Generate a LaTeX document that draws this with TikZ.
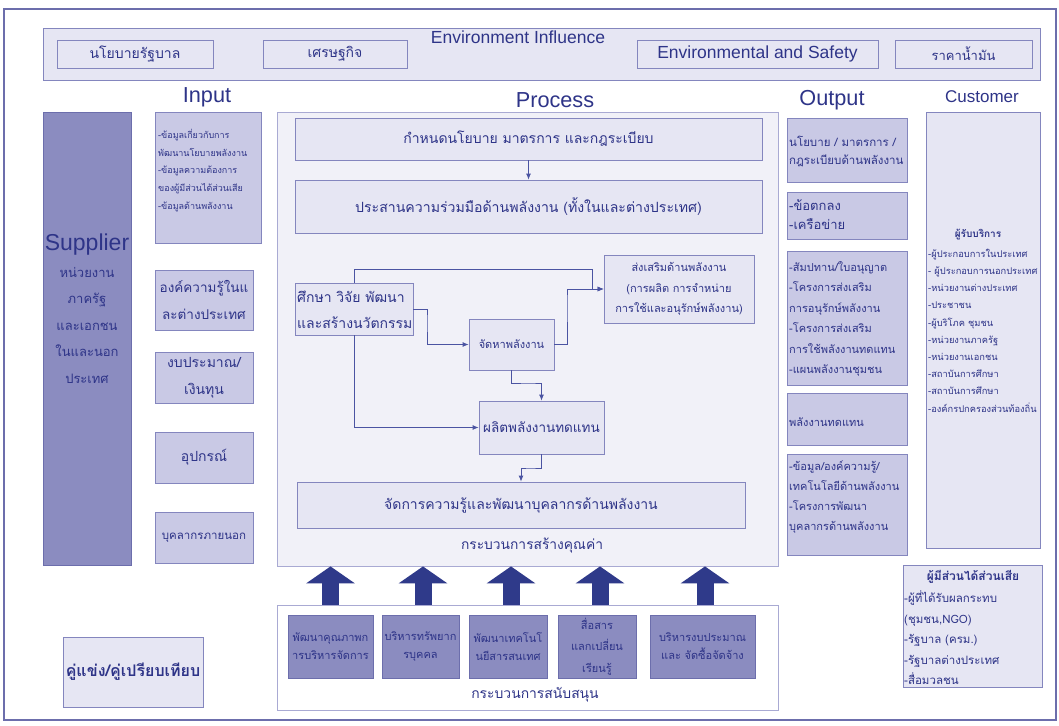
\documentclass[tikz,border=0pt]{standalone}
\usepackage{fontspec}
\setmainfont{Liberation Sans}
\newfontfamily\thaifont[Script=Thai]{Loma}
\usetikzlibrary{fit,arrows.meta}
\definecolor{ink}{HTML}{2E3488}
\definecolor{edge}{HTML}{8486BE}
\definecolor{softedge}{HTML}{A9AAD3}
\definecolor{pale}{HTML}{E6E6F3}
\definecolor{procbg}{HTML}{F1F1F8}
\definecolor{mid}{HTML}{C9C9E5}
\definecolor{deep}{HTML}{8B8CC0}
\definecolor{deepedge}{HTML}{6C6EAC}
\definecolor{flow}{HTML}{4B54A2}
\definecolor{arrowink}{HTML}{2F3A8A}
\newcommand\thfs[2]{\thaifont\fontsize{#1}{#2}\selectfont}
\newcommand\lafs[1]{\fontsize{#1}{#1}\selectfont}
\begin{document}
\begin{tikzpicture}[x=1pt,y=-1pt,
  box/.style={draw=edge, line width=0.8pt, inner sep=0pt},
  palebox/.style={box, fill=pale},
  midbox/.style={box, fill=mid},
  deepbox/.style={box, fill=deep, draw=deepedge},
  txt/.style={inner sep=0pt, text=ink, align=center},
  ltxt/.style={txt, anchor=west, align=left},
  head/.style={txt, font=\lafs{21.7}},
  flowline/.style={draw=flow, line width=0.8pt, -{Latex[length=6pt,width=5pt]}},
  bigup/.style={draw=arrowink, line width=17pt, -{Triangle[width=48pt,length=17pt]}},
]
\useasboundingbox (0,0) rectangle (1059,725);
\fill[white] (0,0) rectangle (1059,725);
\node[draw=deepedge, line width=1.2pt, inner sep=0pt, fit={(4,9) (1056,720)}] (frame) {};

% environment influence bar
\node[palebox, fit={(43,28) (1040,80)}] (env) {};
\node[txt, font=\lafs{17.5}] (envtitle) at (518,37) {Environment Influence};
\node[palebox, fit={(57,40) (213,68)}] (gov) {};
\node[txt, font=\thfs{14}{16}] (govt) at (gov) {นโยบายรัฐบาล};
\node[palebox, fit={(263,40) (407,68)}] (econ) {};
\node[txt, font=\thfs{14}{16}] (econt) at (econ) {เศรษฐกิจ};
\node[palebox, fit={(637,40) (878,68)}] (safety) {};
\node[txt, font=\lafs{17.5}] (safetyt) at (safety) {Environmental and Safety};
\node[palebox, fit={(895,40) (1032,68)}] (oil) {};
\node[txt, font=\thfs{13}{15}] (oilt) at (oil) {ราคาน้ำมัน};

% column headings
\node[head] (hin) at (207,97) {Input};
\node[head] (hproc) at (555,100) {Process};
\node[head] (hout) at (832,100) {Output};
\node[txt, font=\lafs{17}] (hcust) at (982,97) {Customer};

% supplier
\node[deepbox, fit={(43,112) (131,565)}] (supplier) {};
\node[txt, font=\lafs{23}] (suptitle) at (87,245) {Supplier};
\node[txt, font=\thfs{13}{26.5}] (supbody) at (87,325) {หน่วยงาน\\ภาครัฐ\\และเอกชน\\ในและนอก\\ประเทศ};

% input
\node[midbox, fit={(155,112) (261,243)}] (in1) {};
\node[ltxt, font=\thfs{9}{17.75}] (in1t) at (158,170.5) {-ข้อมูลเกี่ยวกับการ\\พัฒนานโยบายพลังงาน\\-ข้อมูลความต้องการ\\ของผู้มีส่วนได้ส่วนเสีย\\-ข้อมูลด้านพลังงาน};
\node[midbox, fit={(155,270) (253,330)}] (in2) {};
\node[txt, font=\thfs{13.5}{27}] (in2t) at (in2) {องค์ความรู้ในแ\\ละต่างประเทศ};
\node[midbox, fit={(155,352) (253,403)}] (in3) {};
\node[txt, font=\thfs{14}{27}] (in3t) at (in3) {งบประมาณ/\\เงินทุน};
\node[midbox, fit={(155,432) (253,483)}] (in4) {};
\node[txt, font=\thfs{14}{16}] (in4t) at (in4) {อุปกรณ์};
\node[midbox, fit={(155,512) (253,563)}] (in5) {};
\node[txt, font=\thfs{11.5}{13}] (in5t) at (in5) {บุคลากรภายนอก};

% process
\node[draw=softedge, fill=procbg, line width=0.8pt, inner sep=0pt, fit={(277,112) (778,566)}] (proc) {};
\node[palebox, fit={(295,118) (762,160)}] (p1) {};
\node[txt, font=\thfs{14}{16}] (p1t) at (p1) {กำหนดนโยบาย มาตรการ และกฎระเบียบ};
\node[palebox, fit={(295,180) (762,233)}] (p2) {};
\node[txt, font=\thfs{14.1}{16}] (p2t) at (p2) {ประสานความร่วมมือด้านพลังงาน (ทั้งในและต่างประเทศ)};
\node[palebox, fit={(295,283) (413,335)}] (study) {};
\node[ltxt, font=\thfs{14}{26}] (studyt) at (297,310) {ศึกษา วิจัย พัฒนา\\และสร้างนวัตกรรม};
\node[palebox, fit={(604,255) (754,323)}] (promo) {};
\node[txt, font=\thfs{11}{20.5}] (promot) at (promo) {ส่งเสริมด้านพลังงาน\\(การผลิต การจำหน่าย\\การใช้และอนุรักษ์พลังงาน)};
\node[palebox, fit={(469,319) (554,370)}] (supply) {};
\node[txt, font=\thfs{11}{13}] (supplyt) at (supply) {จัดหาพลังงาน};
\node[palebox, fit={(479,401) (604,454)}] (renew) {};
\node[txt, font=\thfs{13.5}{16}] (renewt) at (renew) {ผลิตพลังงานทดแทน};
\node[palebox, fit={(297,482) (745,528)}] (km) {};
\node[txt, font=\thfs{14}{16}] (kmt) at (km) {จัดการความรู้และพัฒนาบุคลากรด้านพลังงาน};
\node[txt, font=\thfs{13.8}{15}] (vclabel) at (532,546) {กระบวนการสร้างคุณค่า};

\coordinate (bendA) at (592,269);
\coordinate (bendB) at (427,320);
\coordinate (bendC) at (567,300);
\coordinate (bendD) at (530,383);
\coordinate (bendE) at (530,468);
\draw[flowline] (p1.south) -- (p2.north);
\draw[flowline] (study.north) |- (bendA) |- (promo.west);
\draw[flowline] (study.east) -| (bendB) |- (supply.west);
\draw[flowline] (supply.east) -| (bendC) |- (promo.west);
\draw[flowline] (supply.south) |- (bendD) -| (renew.north);
\draw[flowline] (study.south) |- (renew.west);
\draw[flowline] (renew.south) |- (bendE) -| (km.north);

% output
\node[midbox, fit={(787,118) (907,182)}] (o1) {};
\node[ltxt, font=\thfs{11.5}{18}] (o1t) at (789,151) {นโยบาย / มาตรการ /\\กฎระเบียบด้านพลังงาน};
\node[midbox, fit={(787,192) (907,239)}] (o2) {};
\node[ltxt, font=\thfs{13}{19}] (o2t) at (789,214.5) {-ข้อตกลง\\-เครือข่าย};
\node[midbox, fit={(787,251) (907,385)}] (o3) {};
\node[ltxt, font=\thfs{11}{20.4}] (o3t) at (789,319) {-สัมปทาน/ใบอนุญาต\\-โครงการส่งเสริม\\การอนุรักษ์พลังงาน\\-โครงการส่งเสริม\\การใช้พลังงานทดแทน\\-แผนพลังงานชุมชน};
\node[midbox, fit={(787,393) (907,445)}] (o4) {};
\node[ltxt, font=\thfs{11}{13}] (o4t) at (789,422) {พลังงานทดแทน};
\node[midbox, fit={(787,454) (907,555)}] (o5) {};
\node[ltxt, font=\thfs{11}{20}] (o5t) at (789,497) {-ข้อมูล/องค์ความรู้/\\เทคโนโลยีด้านพลังงาน\\-โครงการพัฒนา\\บุคลากรด้านพลังงาน};

% customer
\node[palebox, fit={(926,112) (1040,548)}] (cust) {};
\node[txt, font=\thfs{10}{12}\bfseries] (custhead) at (978,235) {ผู้รับบริการ};
\node[ltxt, font=\thfs{9.3}{17.2}] (custlist) at (928,330.5) {-ผู้ประกอบการในประเทศ\\- ผู้ประกอบการนอกประเทศ\\-หน่วยงานต่างประเทศ\\-ประชาชน\\-ผู้บริโภค ชุมชน\\-หน่วยงานภาครัฐ\\-หน่วยงานเอกชน\\-สถาบันการศึกษา\\-สถาบันการศึกษา\\-องค์กรปกครองส่วนท้องถิ่น};

% stakeholders
\node[palebox, fit={(903,565) (1042,687)}] (stake) {};
\node[txt, font=\thfs{12}{14}\bfseries] (stakehead) at (973,577) {ผู้มีส่วนได้ส่วนเสีย};
\node[ltxt, font=\thfs{11.5}{20.5}] (stakelist) at (904,638) {-ผู้ที่ได้รับผลกระทบ\\(ชุมชน,NGO)\\-รัฐบาล (ครม.)\\-รัฐบาลต่างประเทศ\\-สื่อมวลชน};

% support processes
\node[draw=softedge, fill=white, line width=0.8pt, inner sep=0pt, fit={(277,605) (778,710)}] (support) {};
\node[deepbox, fit={(288,615) (373,678)}] (s1) {};
\node[txt, font=\thfs{11}{18}] (s1t) at (s1) {พัฒนาคุณภาพก\\ารบริหารจัดการ};
\node[deepbox, fit={(382,615) (459,678)}] (s2) {};
\node[txt, font=\thfs{11}{18}] (s2t) at (s2) {บริหารทรัพยาก\\รบุคคล};
\node[deepbox, fit={(469,615) (547,678)}] (s3) {};
\node[txt, font=\thfs{11}{18}] (s3t) at (s3) {พัฒนาเทคโนโ\\นยีสารสนเทศ};
\node[deepbox, fit={(558,615) (636,678)}] (s4) {};
\node[txt, font=\thfs{11}{21.5}] (s4t) at (s4) {สื่อสาร\\แลกเปลี่ยน\\เรียนรู้};
\node[deepbox, fit={(650,615) (755,678)}] (s5) {};
\node[txt, font=\thfs{11}{18}] (s5t) at (s5) {บริหารงบประมาณ\\และ จัดซื้อจัดจ้าง};
\node[txt, font=\thfs{13.9}{15}] (suplabel) at (535,695) {กระบวนการสนับสนุน};

\draw[bigup] (s1.north |- support.north) -- (s1.north |- proc.south);
\draw[bigup] ([xshift=2.5pt]s2.north |- support.north) -- ([xshift=2.5pt]s2.north |- proc.south);
\draw[bigup] ([xshift=3pt]s3.north |- support.north) -- ([xshift=3pt]s3.north |- proc.south);
\draw[bigup] ([xshift=3pt]s4.north |- support.north) -- ([xshift=3pt]s4.north |- proc.south);
\draw[bigup] ([xshift=2.5pt]s5.north |- support.north) -- ([xshift=2.5pt]s5.north |- proc.south);

% benchmark
\node[palebox, fit={(63,637) (203,707)}] (bench) {};
\node[txt, font=\thfs{16}{18}\bfseries] (bencht) at (bench) {คู่แข่ง/คู่เปรียบเทียบ};
\end{tikzpicture}
\end{document}
